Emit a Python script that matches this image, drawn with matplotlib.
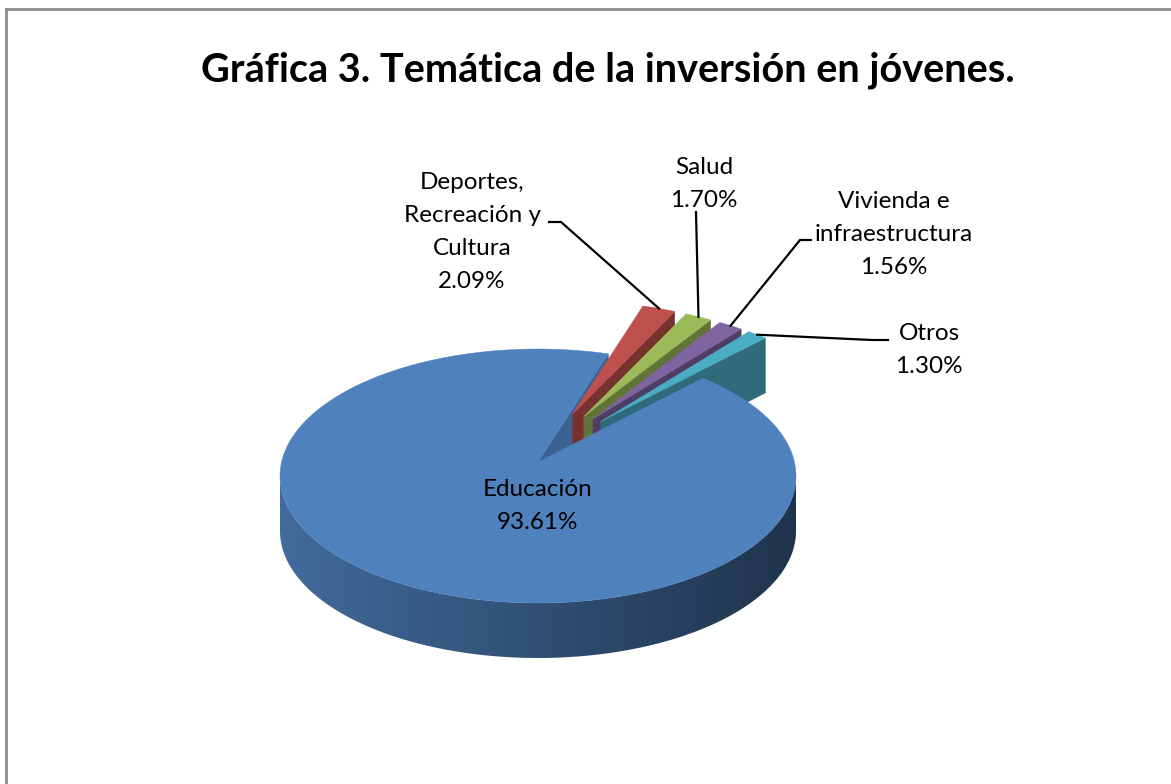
import numpy as np
import matplotlib
matplotlib.use("Agg")
import matplotlib.pyplot as plt
from matplotlib.patches import Polygon
from matplotlib.lines import Line2D

# ---------------- data ----------------
categories = ["Educación", "Deportes,\nRecreación y\nCultura", "Salud",
              "Vivienda e\ninfraestructura", "Otros"]
values = [93.61, 2.09, 1.70, 1.56, 1.30]
pct_labels = ["93.61%", "2.09%", "1.70%", "1.56%", "1.30%"]
title = "Gráfica 3. Temática de la inversión en jóvenes."

# ---------------- style / layout ----------------
top_colors = ["#4F81BD", "#C0504D", "#9BBB59", "#8064A2", "#4BACC6"]
explode = [0.0, 0.40, 0.40, 0.40, 0.40]
CX, CY = 538.0, 476.0       # centre of the top ellipse (pixels)
HUB_DY = -14.0              # perspective shift of the pie hub
RX, RY = 258.0, 127.0       # radii of the top ellipse
DEPTH = 55.0                # thickness of the pie
START = 50.3                # angle (deg, ccw from +x) where first slice starts; slices go clockwise

label_pos = [(538, 506), (472, 232), (704, 184), (894, 234), (929, 350)]
leader_bends = [None, [(561, 222), (549, 222)], [(696, 212)],
                [(800, 240), (811, 240)], [(872, 340), (888, 340)]]

plt.rcParams['font.family'] = ['Lato', 'DejaVu Sans']

fig = plt.figure(figsize=(11.71, 7.84), dpi=100)
ax = fig.add_axes([0, 0, 1, 1])
ax.axis("off")

# chart border (top and left visible)
ax.add_line(Line2D([6, 1171], [9, 9], color="#8c8c8c", lw=2.0))
ax.add_line(Line2D([6, 6], [9, 784], color="#8c8c8c", lw=2.0))


def shade(color, f):
    c = np.array(matplotlib.colors.to_rgb(color))
    return tuple(np.clip(c * f, 0, 1))


def pt(t, off):
    r = np.deg2rad(t)
    return (CX + off[0] + RX * np.cos(r), CY + off[1] - RY * np.sin(r))


def hub(off):
    return (CX + off[0], CY + HUB_DY + off[1])


# slice angle ranges (ccw lo, hi), going clockwise from START
total = sum(values)
ranges = []
a = START
for v in values:
    span = v / total * 360.0
    ranges.append((a - span, a))
    a -= span

offsets = []
for (lo, hi), e in zip(ranges, explode):
    mid = np.deg2rad((lo + hi) / 2)
    offsets.append((e * RX * np.cos(mid), -e * RY * np.sin(mid)))


def top_face(i, z):
    lo, hi = ranges[i]
    off = offsets[i]
    ts = np.linspace(lo, hi, max(int((hi - lo) * 2), 4))
    pts = [hub(off)] + [pt(t, off) for t in ts]
    ax.add_patch(Polygon(pts, closed=True, fc=top_colors[i], ec=top_colors[i],
                         lw=0.3, zorder=z))


def cut_face(i, t, f, z):
    off = offsets[i]
    ap = hub(off)
    op = pt(t, off)
    pts = [ap, op, (op[0], op[1] + DEPTH), (ap[0], ap[1] + DEPTH)]
    c = shade(top_colors[i], f)
    ax.add_patch(Polygon(pts, closed=True, fc=c, ec=c, lw=0.3, zorder=z))


def outer_wall(i, z):
    lo, hi = ranges[i]
    off = offsets[i]
    for base in (-360, 0, 360):
        a0 = max(lo, 180 + base)
        a1 = min(hi, 360 + base)
        if a1 <= a0:
            continue
        ts = np.linspace(a0, a1, int((a1 - a0)) + 2)
        top = [pt(t, off) for t in ts]
        bot = [(p[0], p[1] + DEPTH) for p in top[::-1]]
        poly = Polygon(top + bot, closed=True, fc="none", ec="none", zorder=z)
        ax.add_patch(poly)
        # horizontal shading gradient clipped to the wall
        xs = np.linspace(0, 1, 256)
        f = 0.83 - 0.43 * xs
        base_rgb = np.array(matplotlib.colors.to_rgb(top_colors[i]))
        grad = np.clip(f[None, :, None] * base_rgb[None, None, :], 0, 1)
        grad = np.repeat(grad, 2, axis=0)
        x0, x1 = CX + off[0] - RX, CX + off[0] + RX
        y0 = CY + off[1] - RY
        y1 = CY + off[1] + RY + DEPTH
        im = ax.imshow(grad, extent=(x0, x1, y1, y0), aspect="auto",
                       interpolation="bilinear", zorder=z)
        im.set_clip_path(poly)


def visible_cuts(i):
    lo, hi = ranges[i]
    res = []
    if np.sin(np.deg2rad(lo - 90)) < 0:
        res.append(lo)
    if np.sin(np.deg2rad(hi + 90)) < 0:
        res.append(hi)
    return res


# Education: front wall and cut face
outer_wall(0, 1)
for t in visible_cuts(0):
    cut_face(0, t, 0.76, 2)

# small exploded slices, back to front
for k, i in enumerate(range(1, len(values))):
    z = 3 + k * 0.1
    outer_wall(i, z)
    for t in visible_cuts(i):
        cut_face(i, t, 0.62, z)
    top_face(i, z + 0.05)

# Education top face in front
top_face(0, 5)

# ---------------- labels ----------------
FS = 17.5
LINE = 33
for i, (name, pl) in enumerate(zip(categories, pct_labels)):
    lines = name.split("\n") + [pl]
    x, y = label_pos[i]
    n = len(lines)
    for j, s in enumerate(lines):
        ax.text(x, y + (j - (n - 1) / 2) * LINE, s, ha="center", va="center",
                fontsize=FS, color="black", zorder=10)
    if leader_bends[i] is not None:
        lo, hi = ranges[i]
        tip = pt((lo + hi) / 2, offsets[i])
        xs = [tip[0]] + [p[0] for p in leader_bends[i]]
        ys = [tip[1]] + [p[1] for p in leader_bends[i]]
        ax.add_line(Line2D(xs, ys, color="black", lw=1.6, zorder=9,
                           solid_joinstyle="miter"))

ax.text(608, 70, title, ha="center", va="center", fontsize=28.5,
        fontweight="bold", color="black", zorder=10)

ax.set_xlim(0, 1171)
ax.set_ylim(784, 0)

fig.savefig("out.png", dpi=100)
